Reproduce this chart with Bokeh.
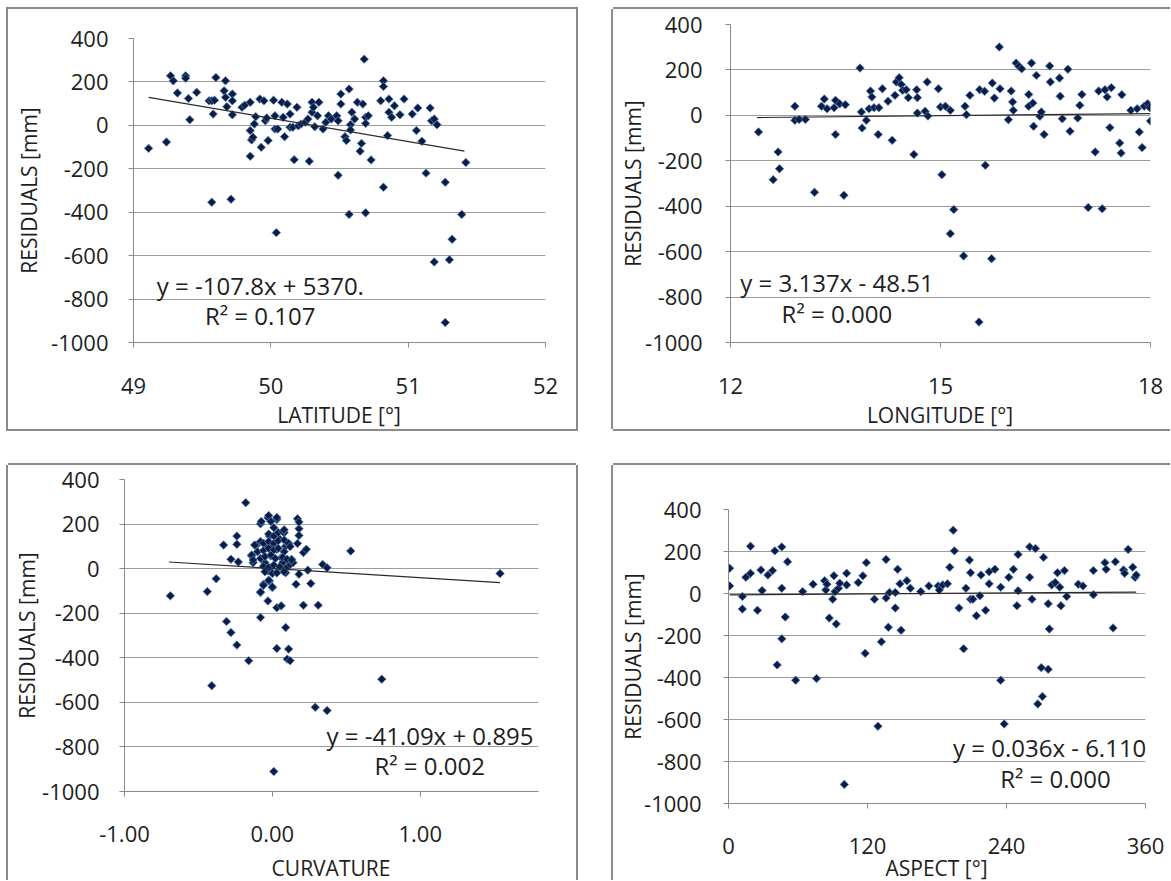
from bokeh.plotting import figure
from bokeh.layouts import row, column
from bokeh.models import Spacer, FixedTicker, Label, NumeralTickFormatter, Range1d, Div
from bokeh.embed import file_html
from bokeh.resources import INLINE

# ---------------- data ----------------
y_ticks = [-1000, -800, -600, -400, -200, 0, 200, 400]

lat_x = [49.11, 49.24, 49.27, 49.29, 49.32, 49.38, 49.38, 49.40, 49.41, 49.46,
         49.55, 49.57, 49.58, 49.57, 49.60, 49.59, 49.66, 49.67, 49.67, 49.68,
         49.71, 49.72, 49.72, 49.72, 49.79, 49.81, 49.85, 49.85, 49.86, 49.85,
         49.87, 49.88, 49.89, 49.92, 49.93, 49.95, 49.96, 49.97, 49.98, 50.02,
         50.03, 50.03, 50.04, 50.05, 50.08, 50.09, 50.10, 50.12, 50.14, 50.14,
         50.16, 50.17, 50.19, 50.20, 50.22, 50.25, 50.27, 50.28, 50.30, 50.30,
         50.31, 50.32, 50.34, 50.35, 50.38, 50.40, 50.42, 50.44, 50.48, 50.49,
         50.49, 50.51, 50.51, 50.54, 50.55, 50.57, 50.58, 50.58, 50.57, 50.59,
         50.61, 50.63, 50.65, 50.66, 50.67, 50.68, 50.69, 50.69, 50.69, 50.71,
         50.73, 50.80, 50.82, 50.82, 50.82, 50.85, 50.86, 50.86, 50.88, 50.90,
         50.94, 50.97, 51.03, 51.06, 51.07, 51.10, 51.13, 51.16, 51.17, 51.19,
         51.19, 51.21, 51.27, 51.27, 51.30, 51.32, 51.39, 51.42]
lat_res = [-106, -77, 228, 205, 149, 228, 217, 124, 26, 152,
           113, 113, 52, -354, 220, 116, 159, 205, 129, 86,
           -340, 144, 113, 49, 83, 93, 106, -24, -67, -142,
           -55, 6, 40, 121, -101, 113, 21, 34, -70, 116,
           44, -17, -494, -17, 106, 37, -52, 98, 52, -9,
           -9, -158, 83, -2, 6, 14, 29, -165, 60, 106,
           83, -6, 44, 106, -17, 14, 44, 29, 44, 21,
           -230, 98, 144, -52, -70, 167, 3, -21, -410, 60,
           29, 106, -119, -83, 98, 305, 37, 9, -403, 44,
           -159, 113, 205, 179, -285, -47, 60, 121, 37, 90,
           49, 121, 52, -24, 80, -73, -220, 80, 21, -629,
           29, 3, -262, -908, -619, -525, -410, -171]
lat_trend_x = [49.11, 51.41]
lat_trend_y = [129, -119]

lon_x = [12.40, 12.61, 12.68, 12.70, 12.92, 12.92, 12.98, 13.07, 13.20, 13.30,
         13.34, 13.38, 13.48, 13.50, 13.50, 13.56, 13.62, 13.64, 13.85, 13.87,
         13.88, 13.94, 13.98, 14.00, 14.02, 14.05, 14.11, 14.12, 14.17, 14.25,
         14.31, 14.35, 14.37, 14.41, 14.44, 14.46, 14.51, 14.54, 14.62, 14.66,
         14.67, 14.67, 14.78, 14.81, 14.82, 14.97, 15.00, 15.02, 15.07, 15.14,
         15.14, 15.19, 15.33, 15.35, 15.37, 15.42, 15.55, 15.56, 15.63, 15.64,
         15.73, 15.74, 15.77, 15.84, 15.85, 15.97, 16.01, 16.03, 16.04, 16.08,
         16.12, 16.16, 16.26, 16.26, 16.30, 16.32, 16.33, 16.37, 16.42, 16.44,
         16.48, 16.56, 16.57, 16.70, 16.71, 16.74, 16.82, 16.85, 16.96, 16.99,
         17.02, 17.11, 17.21, 17.26, 17.31, 17.35, 17.38, 17.42, 17.44, 17.56,
         17.58, 17.59, 17.72, 17.81, 17.84, 17.88, 17.91, 17.96, 17.99, 18.00]
lon_res = [-73, -283, -161, -235, 40, -22, -18, -18, -339, 40,
           72, 29, 34, 66, -84, 51, -352, 47, 208, 15,
           -56, -22, 29, 107, 81, 34, -84, 34, 117, 62,
           -110, 88, 147, 166, 136, 110, 113, 78, -172, 113,
           78, 10, 18, 147, -3, 117, 37, -261, 40, -521,
           22, -414, -619, 40, 3, 88, -910, 113, 106, -220,
           -631, 142, 76, 301, 117, -19, 107, 59, 22, 230,
           216, 205, 92, 40, 230, 54, -48, 176, -4, 15,
           -84, 217, 147, 164, 84, -15, 203, -70, -12, 44,
           92, -406, -161, 107, -411, 113, 81, -54, 122, -122,
           -166, 91, 22, 29, -73, -142, 40, 51, 34, -25]
lon_trend_x = [12.38, 18.0]
lon_trend_y = [-9.7, 8.0]

curv_x = [-0.69, -0.44, -0.41, -0.38, -0.33, -0.31, -0.28, -0.28, -0.24, -0.24,
          -0.23, -0.24, -0.18, -0.16, -0.14, -0.13, -0.11, -0.08, -0.08, -0.08,
          -0.06, -0.05, -0.04, -0.03, -0.03, -0.03, -0.02, -0.02, -0.01, -0.01,
          0.00, 0.00, 0.01, 0.01, 0.03, 0.03, 0.03, 0.03, 0.03, 0.04,
          0.06, 0.06, 0.07, 0.08, 0.09, 0.09, 0.09, 0.10, 0.11, 0.11,
          0.11, 0.12, 0.13, 0.14, 0.16, 0.17, 0.17, 0.18, 0.18, 0.18,
          0.18, 0.21, 0.21, 0.23, 0.24, 0.26, 0.29, 0.31, 0.34, 0.37,
          0.37, 0.53, 0.74, 1.54,
          -0.075, -0.025, 0.03, -0.01, -0.025, 0.01, 0.04, 0.07, 0.08, -0.12,
          -0.08, -0.06, -0.025, 0.01, 0.04, 0.08, 0.11, -0.14, -0.10, -0.06,
          -0.025, 0.01, 0.04, 0.08, 0.12, -0.13, -0.08, -0.05, -0.01, 0.02,
          0.07, 0.10, 0.13, -0.06, -0.025, 0.01, 0.05, 0.09, -0.05, 0.00,
          0.03, 0.08, -0.025, -0.06, -0.08, 0.00]
curv_res = [-122, -103, -525, -45, 106, -237, 42, -287, 146, 109,
            30, -343, 296, -413, 57, 27, 104, -107, 201, -219,
            -70, 27, 109, -10, -145, 228, 146, -55, 57, 4,
            101, -85, -910, 184, 87, -18, -358, 221, -175, 139,
            49, -167, 27, 161, 101, -18, -264, -406, 109, 12,
            -361, -413, 42, 27, -70, 113, 224, 179, 149, 209,
            -25, -164, 72, 87, -7, -67, -622, -164, 19, 4,
            -637, 79, -496, -22,
            212, 238, 230, 212, 155, 147, 162, 167, 174, 106,
            122, 114, 122, 114, 125, 129, 114, 61, 76, 81,
            91, 84, 91, 76, 99, 39, 46, 54, 61, 46,
            51, 42, 39, 11, 5, 16, 8, 1, -14, -22,
            -19, -14, -52, -75, -105, -82]
curv_trend_x = [-0.70, 1.54]
curv_trend_y = [29.7, -62.4]

asp_x = [1, 1, 12, 12, 15, 19, 19, 25, 28, 29,
         34, 38, 40, 42, 46, 46, 46, 49, 51, 58,
         64, 73, 76, 83, 84, 85, 87, 90, 91, 92,
         93, 95, 96, 100, 102, 102, 112, 116, 118, 119,
         126, 129, 132, 136, 136, 138, 139, 144, 144, 146,
         148, 149, 154, 157, 166, 173, 181, 182, 185, 189,
         191, 194, 195, 199, 203, 205, 208, 209, 209, 211,
         214, 217, 218, 222, 225, 225, 230, 235, 235, 238,
         242, 246, 249, 250, 250, 260, 260, 262, 265, 267,
         270, 271, 272, 276, 276, 277, 279, 282, 284, 286,
         287, 290, 292, 302, 306, 315, 315, 325, 326, 332,
         334, 341, 342, 345, 349, 351, 352]
asp_res = [120, 36, -14, -74, 77, 225, 96, -80, 112, 14,
           88, 109, 203, -340, 222, 25, -216, -112, 151, -413,
           9, 44, -405, 61, 17, 44, -117, -27, 85, 9,
           -145, 25, 49, -909, 41, 96, 52, 84, -285, 147,
           -27, -632, -230, 162, -22, -161, 5, 5, -69, 115,
           46, -175, 61, 25, 9, 36, 36, 17, 41, 46,
           125, 301, 203, -69, -263, 25, 159, 99, -27, -27,
           -106, -11, 88, -80, 46, 104, 115, 30, -413, -621,
           77, 115, -58, 13, 186, 222, 77, -27, 214, -526,
           -353, -490, 172, -361, -49, -169, 41, 52, 99, 30,
           -58, 109, -14, 44, 36, 109, -6, 147, 115, -164,
           151, 112, 96, 210, 125, 77, 88]
asp_trend_x = [1, 352]
asp_trend_y = [-6.1, 6.6]

# ---------------- style ----------------
FONT = "Open Sans"
TXT = "#1e1e1e"
GRID = "#9c9c9c"
AXC = "#8a8a8a"
BRD = "#8c8c8c"
MK_FILL = "#0d1c42"
MK_LINE = "#4f7fc0"


def panel(w, h, xr, xticks, mb, xs, ys, tx, ty, eq, r2, eqpos, r2pos,
          ylab_st, ytit_st, xlab_st, xfmt="0"):
    p = figure(width=w, height=h, output_backend="svg", toolbar_location=None,
               x_range=Range1d(*xr), y_range=Range1d(-1000, 400),
               min_border_left=mb[0], min_border_right=mb[1],
               min_border_top=mb[2], min_border_bottom=mb[3],
               background_fill_color="white", border_fill_color="white",
               frame_align=False)
    p.outline_line_color = None
    p.xgrid.visible = False
    p.ygrid.ticker = FixedTicker(ticks=y_ticks)
    p.ygrid.grid_line_color = GRID
    p.ygrid.grid_line_width = 1
    p.xaxis.ticker = FixedTicker(ticks=xticks)
    p.yaxis.ticker = FixedTicker(ticks=y_ticks)
    p.yaxis.formatter = NumeralTickFormatter(format="0")
    p.xaxis.formatter = NumeralTickFormatter(format=xfmt)
    for ax in (p.xaxis[0], p.yaxis[0]):
        ax.axis_line_color = AXC
        ax.major_tick_line_color = AXC
        ax.major_tick_out = 5
        ax.major_tick_in = 0
        ax.minor_tick_out = 0
        ax.minor_tick_in = 0
        ax.major_label_text_font = FONT
        ax.major_label_text_font_size = "22px"
        ax.major_label_text_color = TXT
        ax.axis_label_text_font = FONT
        ax.axis_label_text_font_size = "21px"
        ax.axis_label_text_font_style = "normal"
        ax.axis_label_text_color = TXT
    p.yaxis.axis_label = "RESIDUALS [mm]"
    p.yaxis.major_label_standoff = ylab_st
    p.yaxis.axis_label_standoff = ytit_st
    p.xaxis.major_label_standoff = xlab_st

    p.scatter(xs, ys, marker="square", size=6, angle=0.7854,
              fill_color=MK_FILL, line_color=MK_LINE, line_width=0.8)
    p.line(tx, ty, line_color="#2b2b2b", line_width=1.2)

    for txt, pos in ((eq, eqpos), (r2, r2pos)):
        p.add_layout(Label(x=pos[0], y=pos[1], text=txt, text_font=FONT,
                           text_font_size="24px", text_color=TXT,
                           text_baseline="middle", text_align="left"))
    return p


def xtitle(text, w, h, left, fw, lh):
    html = (f'<div style="margin:0;padding:0;margin-left:{left}px;width:{fw}px;'
            f'text-align:center;font-family:\'Open Sans\';font-size:21px;'
            f'line-height:{lh}px;color:{TXT};white-space:nowrap">{text}</div>')
    return Div(text=html, width=w, height=h, margin=0,
               styles={"overflow": "visible"})


p1 = panel(568, 395, (49, 52), [49, 50, 51, 52], (125, 31, 29, 62),
           lat_x, lat_res, lat_trend_x, lat_trend_y,
           "y = -107.8x + 5370.", "R² = 0.107", (49.17, -737), (49.52, -875),
           20, 5, 30)
d1 = xtitle("LATITUDE [°]", 568, 25, 125, 412, 22)

p2 = panel(557, 395, (12, 18), [12, 15, 18], (117, 20, 15, 62),
           lon_x, lon_res, lon_trend_x, lon_trend_y,
           "y = 3.137x - 48.51", "R² = 0.000", (12.14, -734), (12.73, -871),
           23, -5, 30)
d2 = xtitle("LONGITUDE [°]", 557, 25, 117, 420, 23)

p3 = panel(568, 387, (-1, 1.8), [-1, 0, 1], (116, 38, 14, 61),
           curv_x, curv_res, curv_trend_x, curv_trend_y,
           "y = -41.09x + 0.895", "R² = 0.002", (0.366, -748), (0.69, -882),
           20, -2, 29, xfmt="0.00")
d3 = xtitle("CURVATURE", 568, 28, 116, 414, 32)

p4 = panel(557, 399, (0, 360), [0, 120, 240, 360], (115, 25, 44, 61),
           asp_x, asp_res, asp_trend_x, asp_trend_y,
           "y = 0.036x - 6.110", "R² = 0.000", (193.8, -732), (234.5, -880),
           22, -6, 29)
d4 = xtitle("ASPECT [°]", 557, 16, 115, 417, 6)

c1 = column(p1, d1, styles={"box-shadow": f"0 0 0 2px {BRD}"})
c2 = column(p2, d2, styles={"box-shadow":
            f"-2px 0 0 0 {BRD}, 0 -2px 0 0 {BRD}, 0 2px 0 0 {BRD}"})
c3 = column(p3, d3, styles={"box-shadow":
            f"-2px 0 0 0 {BRD}, 2px 0 0 0 {BRD}, 0 -2px 0 0 {BRD}"})
c4 = column(p4, d4, styles={"box-shadow": f"-2px 0 0 0 {BRD}, 0 -2px 0 0 {BRD}"})

layout = column(Spacer(height=9),
                row(Spacer(width=8), c1, Spacer(width=37), c2),
                Spacer(height=36),
                row(Spacer(width=8), c3, Spacer(width=37), c4))

open("out.html", "w").write(file_html(layout, INLINE))
